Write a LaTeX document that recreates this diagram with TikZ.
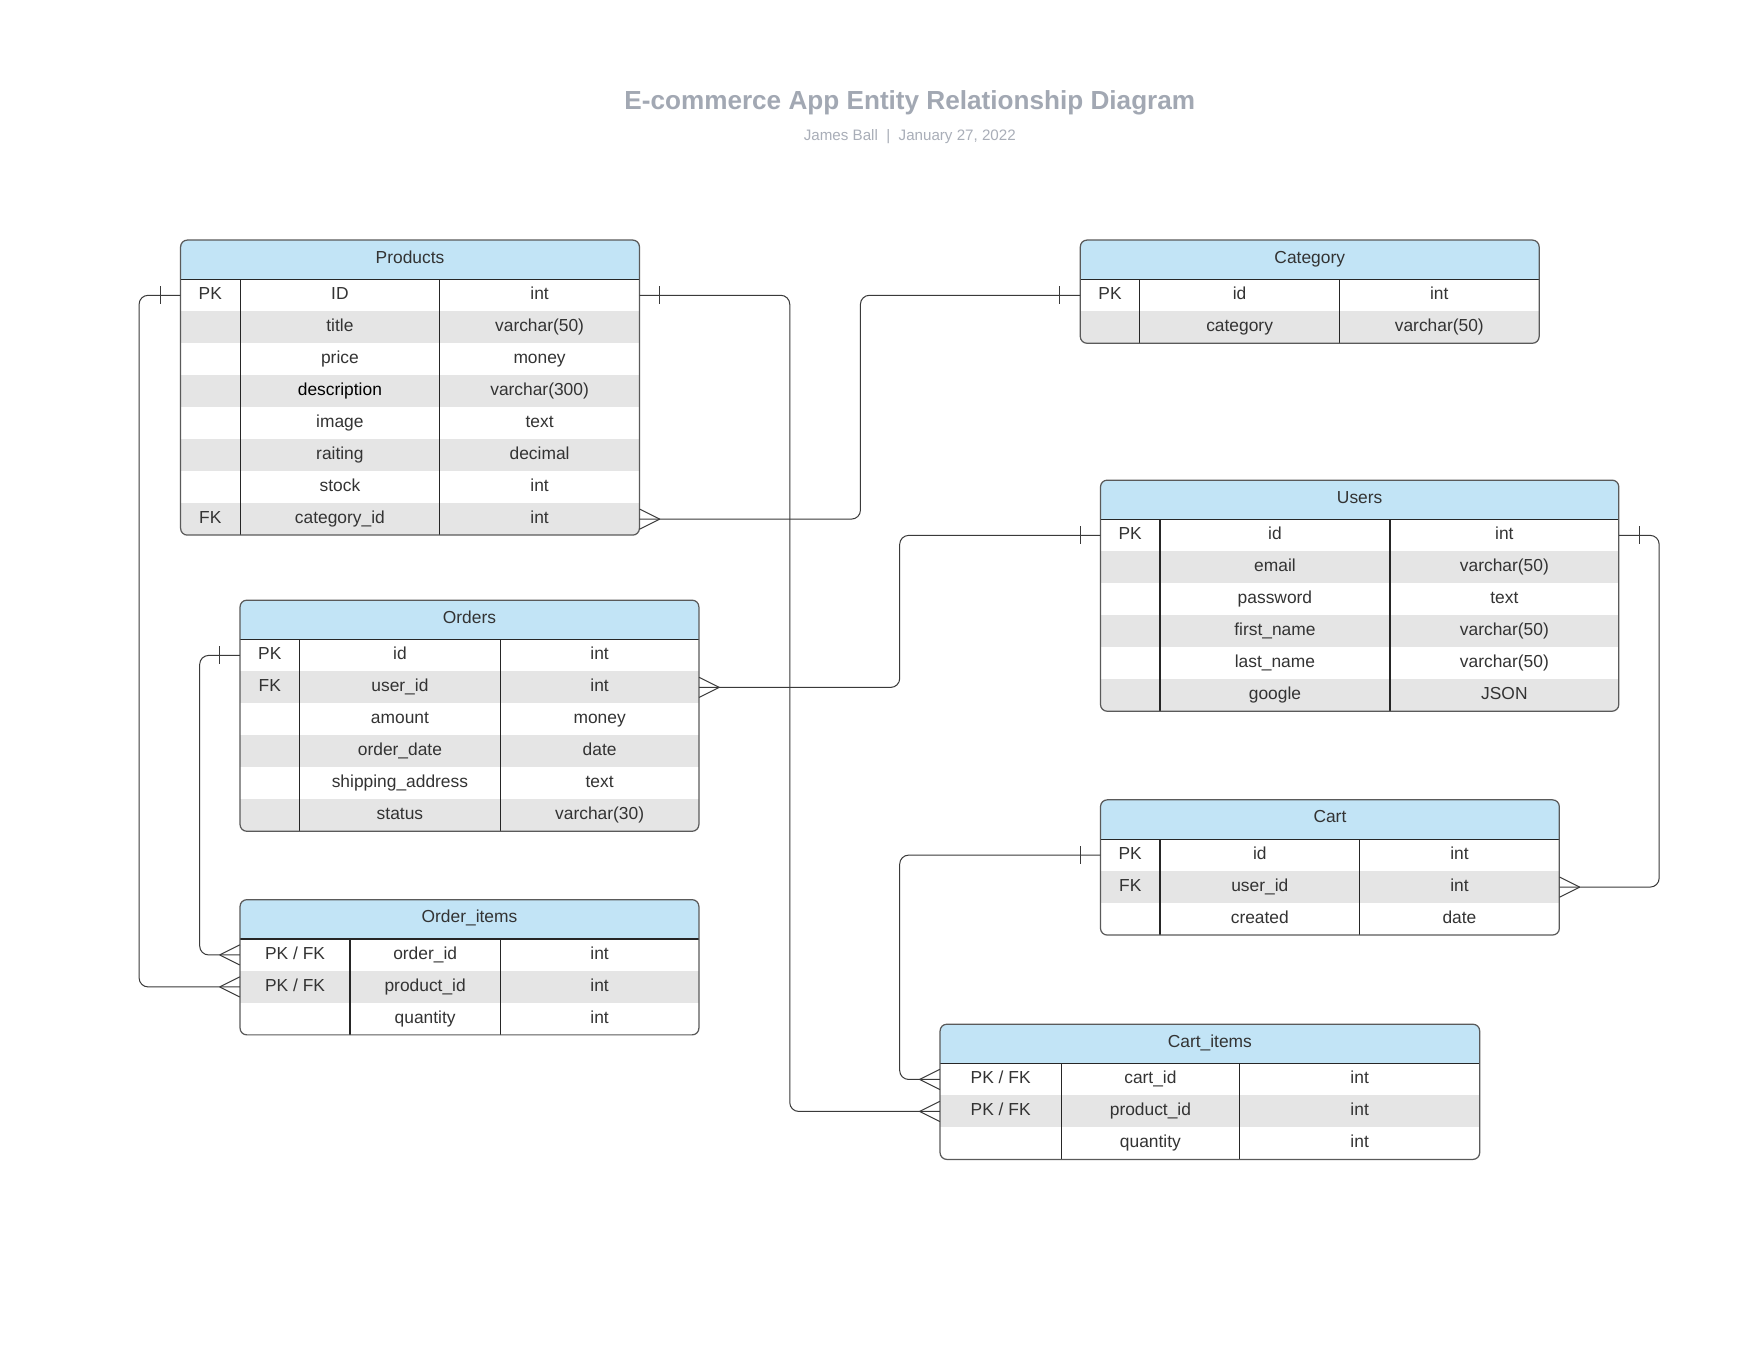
\documentclass[tikz,border=0pt]{standalone}
\usepackage{fontspec}
\setmainfont{Liberation Sans}
\usetikzlibrary{calc}
\definecolor{hdr}{HTML}{C2E4F6}
\definecolor{rowgray}{HTML}{E5E5E5}
\definecolor{ttl}{HTML}{A2A8B3}
\definecolor{sub}{HTML}{A9AEB8}
\definecolor{txt}{HTML}{333333}
\definecolor{bord}{HTML}{5A5A5A}
\definecolor{lnk}{HTML}{3A3A3A}
\tikzset{
  cell/.style={inner sep=0pt,text=txt,text height=11.5pt,text depth=3.5pt,font=\fontsize{15.5}{18}\selectfont},
  hdrtext/.style={inner sep=0pt,text=txt,text height=11.5pt,text depth=3.5pt,font=\fontsize{15.5}{18}\selectfont},
  rowbox/.style={inner sep=0pt,minimum height=28.5pt},
  conn/.style={draw=lnk,line width=0.9pt,rounded corners=8pt},
  erkmark/.style={draw=lnk,line width=0.9pt},
  border/.style={draw=bord,line width=1.1pt,rounded corners=6pt},
  sep/.style={draw=black!85,line width=1pt},
}
\makeatletter
% #1 id, #2 x1, #3 col a, #4 col b, #5 x2, #6 top, #7 nrows, #8 title
\newcommand\ertable[8]{%
  \pgfmathsetmacro\erbot{#6+35+#7*28.5}%
  \pgfmathsetmacro\ermid{(#2+#5)/2}%
  \pgfmathsetmacro\erhb{#6+35}%
  \expandafter\xdef\csname er@#1@xa\endcsname{#2}%
  \expandafter\xdef\csname er@#1@xb\endcsname{#3}%
  \expandafter\xdef\csname er@#1@xc\endcsname{#4}%
  \expandafter\xdef\csname er@#1@xd\endcsname{#5}%
  \expandafter\xdef\csname er@#1@t\endcsname{#6}%
  \begin{scope}
    \clip[rounded corners=6pt] (#2,#6) rectangle (#5,\erbot);
    \fill[hdr] (#2,#6) rectangle (#5,\erhb);
    \foreach \i in {1,...,#7}{%
      \ifodd\i\else
        \fill[rowgray] (#2,{#6+35+(\i-1)*28.5}) rectangle (#5,{#6+35+\i*28.5});
      \fi}
  \end{scope}
  \node[hdrtext] (#1-title) at (\ermid,{#6+16.5}) {#8};
  \draw[sep] (#2,\erhb) -- (#5,\erhb);
  \draw[sep] (#3,\erhb) -- (#3,\erbot);
  \draw[sep] (#4,\erhb) -- (#4,\erbot);
  \draw[border] (#2,#6) rectangle (#5,\erbot);
}
% #1 id, #2 row index, #3 #4 #5 cell texts
\newcommand\errow[5]{%
  \edef\era{\csname er@#1@xa\endcsname}%
  \edef\erb{\csname er@#1@xb\endcsname}%
  \edef\erc{\csname er@#1@xc\endcsname}%
  \edef\erd{\csname er@#1@xd\endcsname}%
  \edef\ert{\csname er@#1@t\endcsname}%
  \pgfmathsetmacro\ery{\ert+35+(#2-0.5)*28.5}%
  \pgfmathsetmacro\erw{\erd-\era}%
  \node[rowbox,minimum width=\erw pt] (#1-#2) at ({(\era+\erd)/2},\ery) {};
  \node[cell] (#1-#2-k) at ({(\era+\erb)/2},\ery) {#3};
  \node[cell] (#1-#2-n) at ({(\erb+\erc)/2},\ery) {#4};
  \node[cell] (#1-#2-t) at ({(\erc+\erd)/2},\ery) {#5};
}
\makeatother
\newcommand\onemark[2]{\draw[erkmark] ([xshift=#2pt]#1) ++(0,-8) -- ++(0,16);}
\newcommand\manymark[2]{%
  \draw[erkmark] ([xshift=#2pt]#1) -- ++({-1*(#2)},-9)
              ([xshift=#2pt]#1) -- ++({-1*(#2)},9);}
\begin{document}
\begin{tikzpicture}[x=1pt,y=-1pt]
\useasboundingbox[fill=white] (0,0) rectangle (1568,1211.5);

\node[inner sep=0pt,text=ttl,font=\fontsize{23.3}{27}\selectfont\bfseries] (title) at (811,92) {E-commerce App Entity Relationship Diagram};
\node[inner sep=0pt,text=sub,font=\fontsize{13.5}{16}\selectfont] (subtitle) at (811,121.5) {James Ball~~|~~January 27, 2022};

% Products
\ertable{prod}{161}{214}{392}{570}{214}{8}{Products}
\errow{prod}{1}{PK}{ID}{int}
\errow{prod}{2}{}{title}{varchar(50)}
\errow{prod}{3}{}{price}{money}
\errow{prod}{4}{}{\textcolor{black}{description}}{varchar(300)}
\errow{prod}{5}{}{image}{text}
\errow{prod}{6}{}{raiting}{decimal}
\errow{prod}{7}{}{stock}{int}
\errow{prod}{8}{FK}{category\_id}{int}

% Category
\ertable{cat}{963}{1016}{1194}{1372}{214}{2}{Category}
\errow{cat}{1}{PK}{id}{int}
\errow{cat}{2}{}{category}{varchar(50)}

% Users
\ertable{user}{981}{1034}{1239}{1443}{428}{6}{Users}
\errow{user}{1}{PK}{id}{int}
\errow{user}{2}{}{email}{varchar(50)}
\errow{user}{3}{}{password}{text}
\errow{user}{4}{}{first\_name}{varchar(50)}
\errow{user}{5}{}{last\_name}{varchar(50)}
\errow{user}{6}{}{google}{JSON}

% Orders
\ertable{ord}{214}{267}{446}{623}{535}{6}{Orders}
\errow{ord}{1}{PK}{id}{int}
\errow{ord}{2}{FK}{user\_id}{int}
\errow{ord}{3}{}{amount}{money}
\errow{ord}{4}{}{order\_date}{date}
\errow{ord}{5}{}{shipping\_address}{text}
\errow{ord}{6}{}{status}{varchar(30)}

% Order_items
\ertable{oit}{214}{312}{446}{623}{802}{3}{Order\_items}
\errow{oit}{1}{PK / FK}{order\_id}{int}
\errow{oit}{2}{PK / FK}{product\_id}{int}
\errow{oit}{3}{}{quantity}{int}

% Cart
\ertable{cart}{981}{1034}{1212}{1390}{713}{3}{Cart}
\errow{cart}{1}{PK}{id}{int}
\errow{cart}{2}{FK}{user\_id}{int}
\errow{cart}{3}{}{created}{date}

% Cart_items
\ertable{cit}{838}{946}{1105}{1319}{913}{3}{Cart\_items}
\errow{cit}{1}{PK / FK}{cart\_id}{int}
\errow{cit}{2}{PK / FK}{product\_id}{int}
\errow{cit}{3}{}{quantity}{int}

% bus coordinates
\coordinate (busA) at (704,0);
\coordinate (busB) at (124,0);
\coordinate (busC) at (767,0);
\coordinate (busD) at (802,0);
\coordinate (busE) at (1479,0);
\coordinate (busF) at (178,0);

% Products.ID -> Cart_items.product_id
\draw[conn] (prod-1.east) -- (prod-1.east -| busA) -- (cit-2.west -| busA) -- (cit-2.west);
\onemark{prod-1.east}{18}
\manymark{cit-2.west}{-18}
% Products.ID -> Order_items.product_id
\draw[conn] (prod-1.west) -- (prod-1.west -| busB) -- (oit-2.west -| busB) -- (oit-2.west);
\onemark{prod-1.west}{-18}
\manymark{oit-2.west}{-18}
% Category.id -> Products.category_id
\draw[conn] (cat-1.west) -- (cat-1.west -| busC) -- (prod-8.east -| busC) -- (prod-8.east);
\onemark{cat-1.west}{-18}
\manymark{prod-8.east}{18}
% Users.id -> Orders.user_id
\draw[conn] (user-1.west) -- (user-1.west -| busD) -- (ord-2.east -| busD) -- (ord-2.east);
\onemark{user-1.west}{-18}
\manymark{ord-2.east}{18}
% Users.id -> Cart.user_id
\draw[conn] (user-1.east) -- (user-1.east -| busE) -- (cart-2.east -| busE) -- (cart-2.east);
\onemark{user-1.east}{18}
\manymark{cart-2.east}{18}
% Orders.id -> Order_items.order_id
\draw[conn] (ord-1.west) -- (ord-1.west -| busF) -- (oit-1.west -| busF) -- (oit-1.west);
\onemark{ord-1.west}{-18}
\manymark{oit-1.west}{-18}
% Cart.id -> Cart_items.cart_id
\draw[conn] (cart-1.west) -- (cart-1.west -| busD) -- (cit-1.west -| busD) -- (cit-1.west);
\onemark{cart-1.west}{-18}
\manymark{cit-1.west}{-18}
\end{tikzpicture}
\end{document}
